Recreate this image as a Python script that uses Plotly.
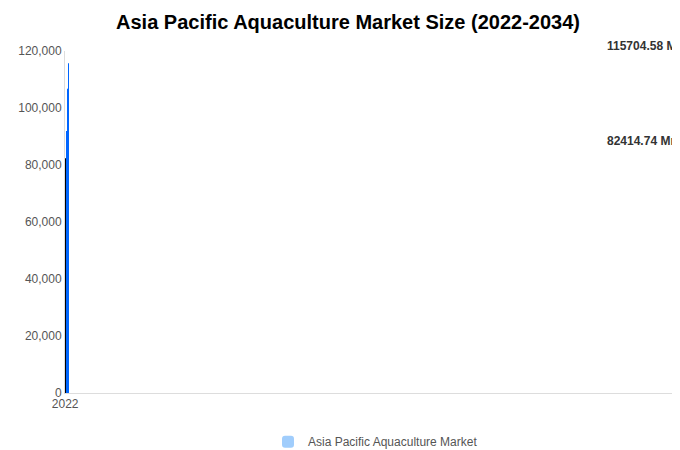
import plotly.graph_objects as go

years = ["2022","2023","2024","2025","2026","2027","2028","2029","2030","2031","2032","2033","2034"]
values = [73200, 76000, 79100, 82414.74, 85300, 88400, 91900, 95400, 99200, 103000, 106800, 111000, 115704.58]
colors = ["#a0cdfc"]*3 + ["#000000"] + ["#0066ff"]*9

fig = go.Figure(go.Bar(x=years, y=values, marker=dict(color=colors, line=dict(width=0)),
                       name="Asia Pacific Aquaculture Market", showlegend=True, width=0.72))
fig.update_layout(
    width=680, height=450, margin=dict(l=57, r=2, t=43, b=61),
    plot_bgcolor="white", paper_bgcolor="white",
    barcornerradius=18,
    font=dict(family="Liberation Sans, Arial", size=12, color="#555"),
    title=dict(text="<b>Asia Pacific Aquaculture Market Size (2022-2034)</b>", x=0.5, xanchor="center",
               y=0.985, yanchor="top", font=dict(size=20, color="#000")),
    legend=dict(orientation="h", x=0.5, xanchor="center", y=-0.1, yanchor="top", font=dict(color="#555")),
    xaxis=dict(type="category", showline=True, linecolor="#ddd", ticks="", tickfont=dict(color="#555")),
    yaxis=dict(range=[0, 120000], tickvals=[0,20000,40000,60000,80000,100000,120000], tickformat=",",
               showgrid=False, showline=True, linecolor="#ddd", zeroline=False, tickfont=dict(color="#555")),
)
for i in (3, 12):
    fig.add_annotation(x=years[i], y=values[i], text=f"<b>{values[i]} Mn</b>", showarrow=False,
                       yanchor="bottom", yshift=8, font=dict(size=12, color="#333"))
fig.write_html("out.html")
